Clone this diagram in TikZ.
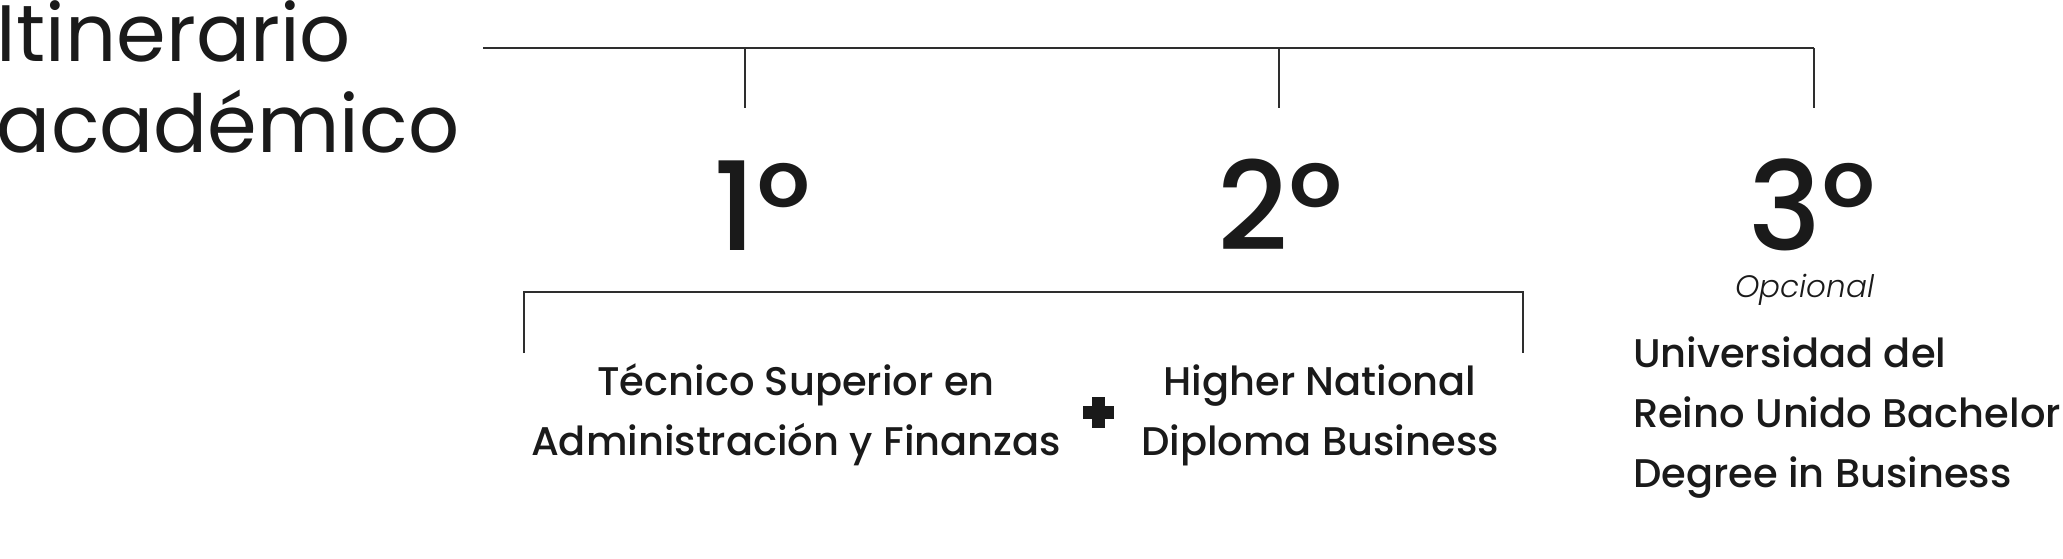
\documentclass[tikz,border=0pt]{standalone}
\usepackage{fontspec}
\setmainfont{Poppins}
\newfontfamily\popmed{Poppins Medium}
\newfontfamily\poplight{Poppins Light}[ItalicFont={Poppins Light Italic}]
\definecolor{ink}{HTML}{1A1A1A}
\definecolor{rule}{HTML}{2E2E2E}
\begin{document}
\begin{tikzpicture}[x=1pt,y=-1pt,
  txt/.style={inner sep=0pt,outer sep=0pt,text=ink},
  title/.style={txt,font=\fontsize{80}{90}\selectfont,align=left,anchor=base west},
  num/.style={txt,font=\popmed\fontsize{123}{130}\selectfont,anchor=base},
  body/.style={txt,font=\popmed\fontsize{40}{60}\selectfont,anchor=base},
  opt/.style={txt,font=\poplight\itshape\fontsize{31}{36}\selectfont,anchor=base},
  line/.style={draw=rule,line width=1.5pt}]
\useasboundingbox (0,0) rectangle (2063,559);
% title
\node[title] (title) at (-3,152) {Itinerario\\académico};
% top rail
\coordinate (r0) at (483,48);
\coordinate (r1) at (745,48);
\coordinate (r2) at (1279,48);
\coordinate (r3) at (1814,48);
\coordinate (e1) at (745,108);
\coordinate (e2) at (1279,108);
\coordinate (e3) at (1814,108);
\draw[line] (r0) -- (r3);
\draw[line] (r1) -- (e1);
\draw[line] (r2) -- (e2);
\draw[line] (r3) -- (e3);
% numbers
\node[num] (n1) at (762,250) {1º};
\node[num] (n2) at (1280,250) {2º};
\node[num] (n3) at (1812,250) {3º};
\node[opt] (opc) at (1805,297) {Opcional};
% lower bracket
\coordinate (b0) at (524,353);
\coordinate (b1) at (524,292);
\coordinate (b2) at (1523,292);
\coordinate (b3) at (1523,353);
\draw[line] (b0) -- (b1) -- (b2) -- (b3);
% texts
\node[body,align=center] (tsaf) at (796,455) {Técnico Superior en\\Administración y Finanzas};
\node[body,align=center] (hnd) at (1320,455) {Higher National\\Diploma Business};
\node[body,align=left,anchor=base west] (uni) at (1633,487) {Universidad del\\Reino Unido Bachelor\\Degree in Business};
% plus sign
\fill[ink] (1083,406) rectangle (1114,419);
\fill[ink] (1092,397) rectangle (1105,428);
\end{tikzpicture}
\end{document}
